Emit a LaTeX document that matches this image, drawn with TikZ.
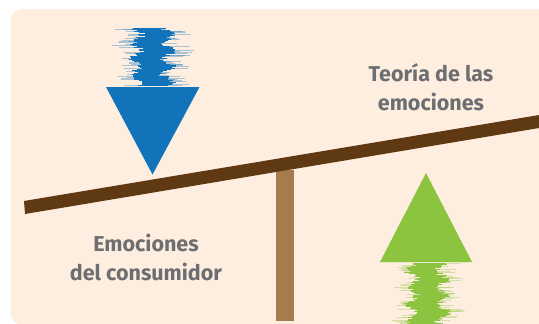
\documentclass[tikz,border=0pt]{standalone}
\usepackage{fontspec}
\setmainfont{Fira Sans}
\definecolor{bg}{HTML}{FDEEE0}
\definecolor{beamc}{HTML}{5E3914}
\definecolor{standc}{HTML}{A67B4E}
\definecolor{bluec}{HTML}{1173BA}
\definecolor{greenc}{HTML}{8CC43F}
\definecolor{txt}{HTML}{6D6E71}
\tikzset{
  label/.style={font=\bfseries\fontsize{21.5}{29}\selectfont, text=txt, align=center, inner sep=0pt},
}
\begin{document}
\begin{tikzpicture}[x=1pt,y=-1pt]
\useasboundingbox (0,0) rectangle (539,324);
\clip (0,0) rectangle (539,324);
\fill[white] (0,0) rectangle (539,324);
\fill[bg,rounded corners=11pt] (10.5,9) rectangle (560,324.5);
% stand
\fill[standc] (276,170) rectangle (293.5,321);
% beam
\fill[beamc] (24,201) -- (539,115) -- (539,128) -- (25,214) -- cycle;
% blue squiggle
\pgfmathsetseed{7}
\foreach \y in {28,28.6,...,86} {
  \pgfmathsetmacro\c{152+5*sin(\y*23)+2*rnd}
  \pgfmathsetmacro\l{\c-(11+rnd*9)}
  \pgfmathsetmacro\r{\c+(10+rnd*9)}
  \pgfmathsetmacro\ll{\l-(rnd<0.35 ? 4+rnd*16 : 0)}
  \pgfmathsetmacro\rr{\r+(rnd<0.35 ? 4+rnd*16 : 0)}
  \draw[bluec, line width=0.7pt, opacity=0.35] (\ll,\y) -- (\rr,\y);
  \draw[bluec, line width=0.8pt] (\l,\y) -- (\r,\y);
}
% blue triangle
\fill[bluec] (106,87) -- (199.5,87) -- (152.5,174.5) -- cycle;
% green squiggle
\pgfmathsetseed{11}
\foreach \y in {263,263.6,...,325} {
  \pgfmathsetmacro\c{426+5*sin(\y*21)+2*rnd}
  \pgfmathsetmacro\l{\c-(10+rnd*9)}
  \pgfmathsetmacro\r{\c+(10+rnd*9)}
  \pgfmathsetmacro\ll{\l-(rnd<0.35 ? 4+rnd*14 : 0)}
  \pgfmathsetmacro\rr{\r+(rnd<0.35 ? 4+rnd*16 : 0)}
  \draw[greenc, line width=0.7pt, opacity=0.35] (\ll,\y) -- (\rr,\y);
  \draw[greenc, line width=0.8pt] (\l,\y) -- (\r,\y);
}
% green triangle
\fill[greenc] (380,262) -- (472,262) -- (426,173) -- cycle;
% labels
\node[label] (teoria) at (431,87) {Teoría de las\\emociones};
\node[label] (emoc) at (146,257.5) {Emociones\\del consumidor};
\end{tikzpicture}
\end{document}
